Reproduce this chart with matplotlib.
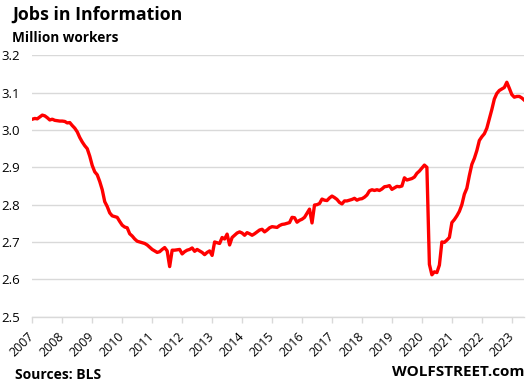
import matplotlib
matplotlib.use("Agg")
import matplotlib.pyplot as plt
import matplotlib.transforms as mtransforms
import numpy as np

plt.rcParams["font.family"] = ["Open Sans", "DejaVu Sans"]

# Monthly jobs in Information (million), Jan 2007 - Jun 2023
v2007 = [3.029, 3.031, 3.030, 3.035, 3.040, 3.038, 3.033, 3.027, 3.029, 3.026, 3.025, 3.024]
v2008 = [3.024, 3.023, 3.019, 3.020, 3.012, 3.005, 2.995, 2.980, 2.968, 2.958, 2.950, 2.930]
v2009 = [2.905, 2.888, 2.880, 2.862, 2.840, 2.808, 2.795, 2.778, 2.770, 2.768, 2.766, 2.755]
v2010 = [2.745, 2.740, 2.738, 2.722, 2.716, 2.708, 2.702, 2.700, 2.698, 2.696, 2.692, 2.686]
v2011 = [2.680, 2.676, 2.672, 2.674, 2.680, 2.685, 2.676, 2.634, 2.678, 2.678, 2.679, 2.680]
v2012 = [2.668, 2.674, 2.678, 2.680, 2.684, 2.675, 2.680, 2.676, 2.672, 2.666, 2.672, 2.676]
v2013 = [2.664, 2.700, 2.698, 2.696, 2.712, 2.708, 2.721, 2.692, 2.712, 2.718, 2.724, 2.727]
v2014 = [2.724, 2.718, 2.725, 2.722, 2.718, 2.722, 2.727, 2.732, 2.734, 2.727, 2.732, 2.738]
v2015 = [2.741, 2.740, 2.739, 2.744, 2.747, 2.748, 2.750, 2.752, 2.766, 2.765, 2.753, 2.758]
v2016 = [2.761, 2.766, 2.777, 2.788, 2.751, 2.799, 2.800, 2.803, 2.815, 2.812, 2.811, 2.818]
v2017 = [2.823, 2.819, 2.814, 2.806, 2.802, 2.810, 2.810, 2.812, 2.814, 2.817, 2.812, 2.815]
v2018 = [2.816, 2.820, 2.826, 2.837, 2.840, 2.838, 2.840, 2.838, 2.842, 2.848, 2.849, 2.851]
v2019 = [2.841, 2.845, 2.849, 2.848, 2.850, 2.872, 2.866, 2.868, 2.870, 2.874, 2.884, 2.890]
v2020 = [2.898, 2.906, 2.900, 2.640, 2.612, 2.620, 2.618, 2.638, 2.700, 2.699, 2.705, 2.712]
v2021 = [2.752, 2.760, 2.770, 2.782, 2.800, 2.828, 2.844, 2.878, 2.908, 2.924, 2.945, 2.972]
v2022 = [2.982, 2.990, 3.005, 3.030, 3.055, 3.083, 3.098, 3.106, 3.110, 3.114, 3.128, 3.112]
v2023 = [3.095, 3.088, 3.090, 3.090, 3.086, 3.080]

values = (v2007 + v2008 + v2009 + v2010 + v2011 + v2012 + v2013 + v2014 + v2015
          + v2016 + v2017 + v2018 + v2019 + v2020 + v2021 + v2022 + v2023)
years = list(range(2007, 2024))
year_labels = [str(y) for y in years]
y_ticks = [2.5, 2.6, 2.7, 2.8, 2.9, 3.0, 3.1, 3.2]

x = 2007 + np.arange(len(values)) / 12.0

W, H = 532, 388
fig = plt.figure(figsize=(W / 100, H / 100), dpi=100)
ax = fig.add_axes([32.3 / W, 1 - 316.6 / H, (524.3 - 32.3) / W, (316.6 - 55.4) / H])

ax.plot(x, values, color="#ff0000", linewidth=2.4, solid_joinstyle="round", zorder=3)

ax.set_xlim(2007, x[-1])
ax.set_ylim(2.5, 3.2)
ax.set_yticks(y_ticks)
ax.set_yticklabels([f"{t:.1f}" for t in y_ticks])
ax.set_xticks(years)
ax.set_xticklabels(year_labels, rotation=45, ha="right", va="center", rotation_mode="anchor")
offset = mtransforms.ScaledTranslation(3 / 100, -2 / 100, fig.dpi_scale_trans)
for lbl in ax.get_xticklabels():
    lbl.set_transform(lbl.get_transform() + offset)

ax.grid(axis="y", color="#d9d9d9", linewidth=1.0)
ax.set_axisbelow(True)
for s in ["left", "right", "top"]:
    ax.spines[s].set_visible(False)
ax.spines["bottom"].set_color("#d9d9d9")
ax.spines["bottom"].set_linewidth(1.0)
ax.tick_params(axis="x", length=4, width=1, color="#d9d9d9", labelsize=9, pad=9, labelcolor="black")
ax.tick_params(axis="y", length=0, labelsize=9.5, pad=9, labelcolor="black")

fig.text(12 / W, 1 - 15 / H, "Jobs in Information", fontsize=12.8, fontweight="bold",
         ha="left", va="center")
fig.text(12 / W, 1 - 37.5 / H, "Million workers", fontsize=9.8, fontweight="bold",
         ha="left", va="center")
fig.text(15 / W, 1 - 375 / H, "Sources: BLS", fontsize=10, fontweight="bold",
         ha="left", va="center")
fig.text(525 / W, 1 - 372 / H, "WOLFSTREET.com", fontsize=11, fontweight="bold",
         ha="right", va="center")

fig.savefig("out.png", dpi=100)
